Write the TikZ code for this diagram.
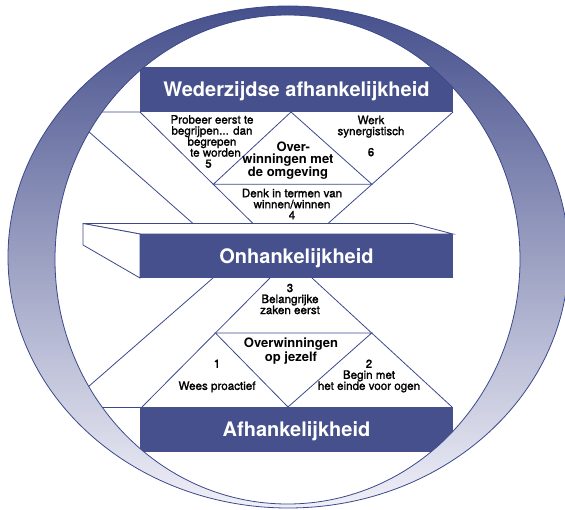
\documentclass[tikz,border=0pt]{standalone}
\usepackage{fontspec}
\setmainfont{TeX Gyre Heros}
\newfontfamily\medfont[FakeBold=1.5]{TeX Gyre Heros}
\usepackage{tikz}
\usepackage{xcolor}
\usetikzlibrary{positioning, calc}

\definecolor{boxblue}{RGB}{70,80,140}
\definecolor{lineblue}{RGB}{60,72,140}
\definecolor{ringlow}{RGB}{240,240,248}

\begin{document}
\begin{tikzpicture}[x=1pt, y=1pt,
  bar/.style={fill=boxblue, text=white, minimum width=313pt, minimum height=44.5pt, inner sep=0pt, text height=14.5pt, text depth=0pt, font=\fontsize{20}{24}\selectfont\bfseries},
  ln/.style={draw=lineblue, line width=0.8pt},
  small/.style={align=center, inner sep=0pt, font=\medfont\fontsize{11.6}{11}\selectfont},
  big/.style={align=center, inner sep=0pt, font=\fontsize{13}{11.5}\selectfont\bfseries}]
\useasboundingbox (0,0) rectangle (565,509);

% Upper part
\coordinate (vtl) at (140,397); \coordinate (vtr) at (453,397);
\coordinate (vbl) at (253,285.5); \coordinate (vbr) at (328,285.5);
\coordinate (ua) at (291,397);
\coordinate (ul) at ($(vtl)!0.6486!(vbl)$);
\coordinate (ur) at ($(vtr)!0.6486!(vbr)$);
\draw[ln] (100,397) -- (vtl) -- (vbl);
\draw[ln] (vtr) -- (vbr);
\draw[ln] (ul) -- (ua) -- (ur) -- cycle;
\draw[ln] (88,378) -- (193,285.5);

% Slab
\draw[ln, fill=white] (83,285.5) -- (413,285.5) -- (453,275) -- (140,275) -- cycle;
\draw[ln, fill=white] (83,285.5) -- (140,275) -- (140,231) -- (83,264) -- cycle;

% Lower part
\coordinate (ltl) at (270,231); \coordinate (ltr) at (312,231);
\coordinate (lbl) at (142,102); \coordinate (lbr) at (452,102);
\coordinate (la) at (288,102);
\coordinate (ll) at ($(lbl)!0.5736!(ltl)$);
\coordinate (lr) at ($(lbr)!0.5736!(ltr)$);
\draw[ln] (ltl) -- (lbl);
\draw[ln] (ltr) -- (lbr);
\draw[ln] (ll) -- (lr) -- (la) -- cycle;
\draw[ln] (100,102) -- (140,102);
\draw[ln] (88,122) -- (213,231);

% Boxes
\node[bar] (wed) at (296.5,419.5) {Wederzijdse afhankelijkheid};
\node[bar] (onh) at (296.5,253) {Onhankelijkheid};
\node[bar] (afh) at (296.5,79.5) {Afhankelijkheid};

% Labels
\node[small] (t5) at (212,367.5) {Probeer eerst te\\begrijpen... dan\\begrepen\hspace*{1em}\\\hspace*{0.6em}te worden\\5\hspace*{0.6em}};
\node[small] (t6) at (371,373) {Werk\\synergistisch\\[10pt]6};
\node[small] (t4) at (292,305) {Denk in termen van\\winnen/winnen\\4};
\node[big] (ovm) at (288,348) {\hspace*{0.8em}Over-\\winningen met\\de omgeving};
\node[small] (t3) at (290,210) {3\\Belangrijke\\zaken eerst};
\node[big] (ovj) at (291,158) {Overwinningen\\op jezelf};
\node[small] (t1) at (217,133) {1\\[11pt]Wees proactief};
\node[small] (t2) at (369,133) {2\\Begin met\\het einde voor ogen};

% Ring
\path[draw=lineblue, line width=0.8pt, even odd rule, top color=boxblue, bottom color=ringlow]
  (288.3,252) ellipse [x radius=280.3, y radius=251]
  (287.5,249.5) ellipse [x radius=232.5, y radius=244.5];
\end{tikzpicture}
\end{document}
